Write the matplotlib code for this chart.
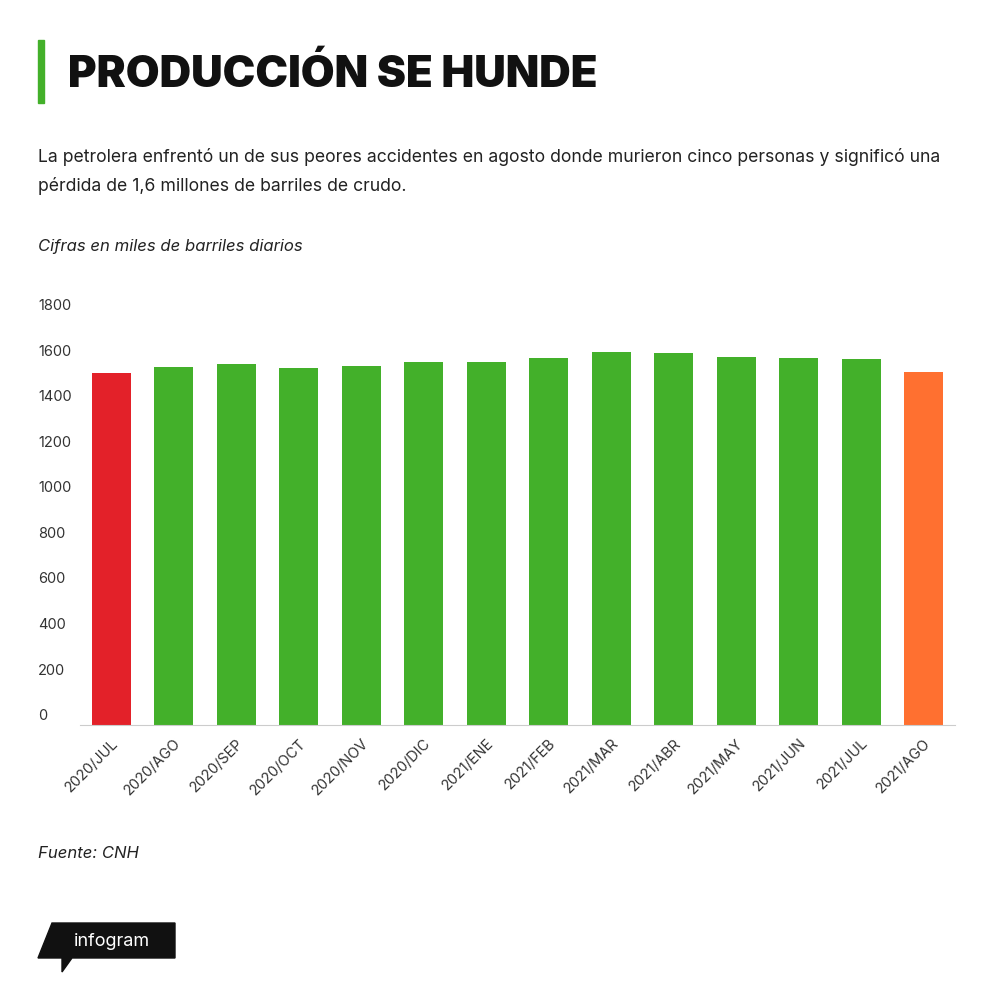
import matplotlib.pyplot as plt
from matplotlib.patches import Polygon, Rectangle
from matplotlib import transforms

plt.rcParams['font.family'] = ['Inter', 'DejaVu Sans']

months = ['2020/JUL', '2020/AGO', '2020/SEP', '2020/OCT', '2020/NOV', '2020/DIC', '2021/ENE',
          '2021/FEB', '2021/MAR', '2021/ABR', '2021/MAY', '2021/JUN', '2021/JUL', '2021/AGO']
produccion = [1545, 1572, 1585, 1567, 1576, 1594, 1594, 1611, 1637, 1633, 1615, 1611, 1607, 1550]
colores = ['#e32129'] + ['#43b02a'] * 12 + ['#ff7030']
yticks = [0, 200, 400, 600, 800, 1000, 1200, 1400, 1600, 1800]

fig = plt.figure(figsize=(10, 9.92), dpi=100)
ax = fig.add_axes([0.08, 0.2692, 0.875, 0.4133])
x = range(len(months))
ax.bar(x, produccion, width=0.62, color=colores)
ax.set_xlim(-0.5, 13.5)
ax.set_ylim(0, 1800)
for s in ['top', 'right', 'left']:
    ax.spines[s].set_visible(False)
ax.spines['bottom'].set_color('#cccccc')
ax.set_yticks([])
ax.set_xticks(list(x))
ax.set_xticklabels(months, rotation=45, ha='right', rotation_mode='anchor', fontsize=10.5, color='#333333')
ax.tick_params(axis='x', length=0, pad=8)
tr = transforms.blended_transform_factory(ax.transAxes, ax.transData)
for v in yticks:
    ax.text(-0.048, v + 8, str(v), transform=tr, fontsize=10.5, color='#333333', va='bottom', ha='left')

# header
fig.patches.append(Rectangle((0.038, 1 - 103 / 992), 0.006, 63 / 992, transform=fig.transFigure, color='#43b02a'))
fig.text(0.068, 1 - 75 / 992, 'PRODUCCIÓN SE HUNDE', fontsize=31.5, fontweight='black', va='center', color='#111111')
fig.text(0.038, 1 - 157 / 992, 'La petrolera enfrentó un de sus peores accidentes en agosto donde murieron cinco personas y significó una',
         fontsize=12.7, va='center', color='#222222')
fig.text(0.038, 1 - 186 / 992, 'pérdida de 1,6 millones de barriles de crudo.', fontsize=12.7, va='center', color='#222222')
fig.text(0.038, 1 - 246 / 992, 'Cifras en miles de barriles diarios', fontsize=12, style='italic', va='center', color='#222222')
fig.text(0.038, 1 - 853 / 992, 'Fuente: CNH', fontsize=12, style='italic', va='center', color='#222222')

# infogram logo
logo = [(38, 958), (52, 923), (175, 923), (175, 958), (72, 958), (62, 972), (62, 958)]
fig.patches.append(Polygon([(px / 1000, 1 - py / 992) for px, py in logo], closed=True,
                           transform=fig.transFigure, color='#111111'))
fig.text(0.074, 1 - 941 / 992, 'infogram', fontsize=13, color='white', va='center')

fig.savefig('out.png')
